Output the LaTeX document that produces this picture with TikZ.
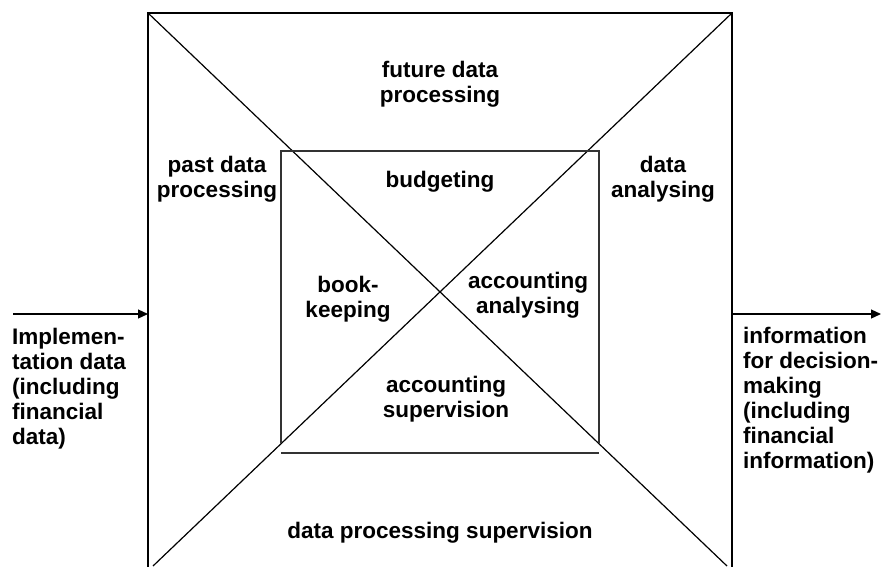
\documentclass[tikz,border=0pt]{standalone}
\usepackage{fontspec}
\setmainfont{Liberation Sans}
\usetikzlibrary{arrows.meta}
\begin{document}
\begin{tikzpicture}[x=1pt,y=-1pt,
  lbl/.style={font=\fontsize{22.5}{25}\selectfont\bfseries, align=center, inner sep=0pt, anchor=base},
  lbll/.style={font=\fontsize{22.5}{25}\selectfont\bfseries, align=left, inner sep=0pt, anchor=base west},
  frame/.style={line width=1.2pt, draw=black},
  inner/.style={line width=1.2pt, draw=black!80},
  flow/.style={line width=1.2pt, -{Triangle[length=10pt,width=9pt]}}]
\useasboundingbox (0,0) rectangle (881,566);
% outer frame corners
\coordinate (otl) at (148,13);
\coordinate (otr) at (732,13);
\coordinate (obl) at (148,567);
\coordinate (obr) at (732,567);
\coordinate (dbr) at (727,566);
\coordinate (dbl) at (153,566);
% inner frame
\coordinate (itl) at (281,151);
\coordinate (itr) at (599,151);
\coordinate (ibl) at (281,443);
\coordinate (ibr) at (599,443);
\coordinate (hl) at (281,453);
\coordinate (hr) at (599,453);
% arrows
\coordinate (ain) at (13,314);
\coordinate (aine) at (148,314);
\coordinate (aout) at (732,314);
\coordinate (aoute) at (881,314);

\draw[frame] (obl) -- (otl) -- (otr) -- (obr);
\draw[frame] (otl) -- (dbr);
\draw[frame] (otr) -- (dbl);
\draw[inner] (ibl) -- (itl) -- (itr) -- (ibr);
\draw[inner] (hl) -- (hr);
\draw[flow] (ain) -- (aine);
\draw[flow] (aout) -- (aoute);

% anchor = baseline of the last line
\node[lbl] (future) at (440,102) {future data\\processing};
\node[lbl] (past) at (217,197) {past data\\processing};
\node[lbl] (analys) at (663,197) {data\\analysing};
\node[lbl] (budget) at (440,187) {budgeting};
\node[lbl] (book) at (348,317) {book-\\keeping};
\node[lbl] (accan) at (528,313) {accounting\\analysing};
\node[lbl] (accsup) at (446,417) {accounting\\supervision};
\node[lbl] (dps) at (440,538) {data processing supervision};
\node[lbll] (impl) at (12,444) {Implemen-\\tation data\\(including\\financial\\data)};
\node[lbll] (info) at (743,468) {information\\for decision-\\making\\(including\\financial\\information)};
\end{tikzpicture}
\end{document}
